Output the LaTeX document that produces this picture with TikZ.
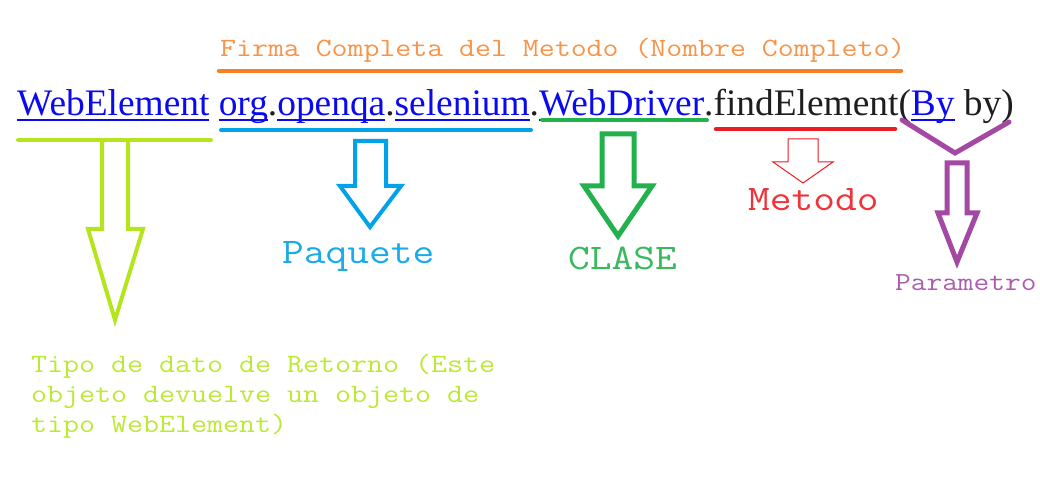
\documentclass[tikz,border=0pt]{standalone}
\usepackage{fontspec}
\setmainfont{Liberation Serif}
\newfontfamily\courfont{Latin Modern Mono}[FakeStretch=1.172]
\definecolor{lnkblue}{RGB}{10,10,240}
\definecolor{txtdark}{RGB}{30,30,30}
\definecolor{cOrange}{RGB}{247,128,38}
\definecolor{cLime}{RGB}{181,230,29}
\definecolor{cBlue}{RGB}{0,162,232}
\definecolor{cGreen}{RGB}{34,177,76}
\definecolor{cRed}{RGB}{237,28,36}
\definecolor{cPurple}{RGB}{163,73,164}
\newcommand\lnk[1]{{\color{lnkblue}\setbox0\hbox{#1}\rlap{\rule[-0.14em]{\wd0}{0.055em}}\box0}}
\tikzset{
  mono/.style={anchor=base west, inner sep=0pt, font=\courfont\fontsize{#1}{#1}\selectfont},
  bar/.style={line width=4.5pt, line cap=round},
  blockarrow/.style={line width=#1, line join=miter, miter limit=20},
}
\begin{document}
\begin{tikzpicture}[x=1pt,y=-1pt]
\useasboundingbox[fill=white] (0,0) rectangle (1040,478);
% title
\node[mono=26.4, text=cOrange!85!white] (title) at (220,57) {Firma Completa del Metodo (Nombre Completo)};
\draw[bar, cOrange] (219,71) -- (901,71);
% signature
\node[anchor=base west, inner sep=0pt, font=\fontsize{37.4}{44}\selectfont, text=txtdark] (sig) at (17,116)
  {\lnk{WebElement} \lnk{org}.\lnk{openqa}.\lnk{selenium}.\lnk{WebDriver}.findElement(\lnk{By} by)};
% underlines
\draw[bar, cLime, line width=4pt] (18,140) -- (211,140);
\draw[bar, cBlue, line width=4pt] (221,130) -- (531,130);
\draw[bar, cGreen, line width=4pt] (542,120) -- (707,120);
\draw[bar, cRed, line width=4.5pt] (716,129) -- (895,129);
\draw[cPurple, line width=5pt, line cap=round, line join=miter] (902,120) -- (955,153) -- (1009,122);
% arrows
\draw[blockarrow=4pt, cLime] (102,141) -- (102,229) -- (88,229) -- (115,320) -- (143,229) -- (128,229) -- (128,141);
\draw[blockarrow=4pt, cBlue] (355,141) -- (355,186) -- (340,186) -- (370,227) -- (401,186) -- (386,186) -- (386,141) -- cycle;
\draw[blockarrow=5pt, cGreen] (602,134) -- (602,186) -- (584,186) -- (618,236) -- (652,186) -- (634,186) -- (634,134) -- cycle;
\draw[blockarrow=1pt, cRed] (788,139) -- (788,162) -- (773,162) -- (803,183) -- (833,162) -- (818,162) -- (818,139) -- cycle;
\draw[blockarrow=5pt, cPurple] (947,163) -- (947,213) -- (938,213) -- (957,262) -- (977,213) -- (967,213) -- (967,163) -- cycle;
% labels
\node[mono=36, text=cBlue!90!white] (paq) at (282,263) {Paquete};
\node[mono=36, text=cGreen!90!white] (clase) at (568,269) {CLASE};
\node[mono=36, text=cRed!90!white] (met) at (748,211) {Metodo};
\node[mono=26, text=cPurple!90!white] (par) at (895,290) {Parametro};
\node[mono=26.5, text=cLime!90!white] (tl1) at (31,372) {Tipo de dato de Retorno (Este};
\node[mono=26.5, text=cLime!90!white] (tl2) at (31,402) {objeto devuelve un objeto de};
\node[mono=26.5, text=cLime!90!white] (tl3) at (31,432) {tipo WebElement)};
\end{tikzpicture}
\end{document}
